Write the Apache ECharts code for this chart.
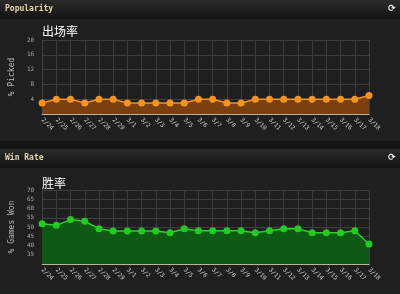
<!DOCTYPE html>
<html><head><meta charset="utf-8">
<script src="https://cdn.jsdelivr.net/npm/echarts@6/dist/echarts.min.js"></script>
<style>html,body{margin:0;padding:0;background:#1d1d1d;}#c{width:400px;height:294px;}</style>
</head><body><div id="c"></div>
<script>
const dates = ['2/24','2/25','2/26','2/27','2/28','2/29','3/1','3/2','3/3','3/4','3/5','3/6','3/7','3/8','3/9','3/10','3/11','3/12','3/13','3/14','3/15','3/16','3/17','3/18'];
const pickRate = [3,4,4,3,4,4,3,3,3,3,3,4,4,3,3,4,4,4,4,4,4,4,4,5];
const winRate = [51.8,50.9,54,53.1,49.1,47.8,47.8,47.8,47.8,46.9,49.1,48,48,48,48,46.9,48,49.1,49.1,46.9,46.9,46.9,48,40.8];
const pickTicks = {min:0, max:20, interval:4};
const winTicks = {min:30, max:70, interval:5};

const chart = echarts.init(document.getElementById('c'), null, {renderer:'canvas'});
const mono = 'DejaVu Sans Mono';
function headerBar(y, label){
  return [
    {type:'rect', shape:{x:0,y:y,width:400,height:19}, style:{fill:new echarts.graphic.LinearGradient(0,0,0,1,[{offset:0,color:'#2b2b2b'},{offset:1,color:'#121212'}])}, silent:true},
    {type:'text', x:5, y:y+5, style:{text:label, fill:'#e6d9a6', font:'bold 8px "DejaVu Sans Mono"'}},
    {type:'text', x:388, y:y+4, style:{text:'⟳', fill:'#eeeeee', font:'bold 9px "DejaVu Sans"'}}
  ];
}
function xAxis(gi){
  return {type:'category', gridIndex:gi, data:dates, boundaryGap:false,
    axisLine:{lineStyle:{color:'#bbb4a0', width:1}}, axisTick:{show:false},
    splitLine:{show:true, lineStyle:{color:'#3e3e3e'}},
    axisLabel:{rotate:-45, fontSize:6, color:'#cccccc', margin:5, interval:0, fontFamily:mono}};
}
function yAxis(gi, t, name){
  return {type:'value', gridIndex:gi, min:t.min, max:t.max, interval:t.interval,
    name:name, nameLocation:'middle', nameRotate:90, nameGap:26,
    nameTextStyle:{color:'#bbbbbb', fontSize:8, fontFamily:mono},
    axisLine:{show:true, lineStyle:{color:'#444'}}, axisTick:{show:false},
    splitLine:{show:true, lineStyle:{color:'#3e3e3e'}},
    axisLabel:{showMinLabel:false, fontSize:6, color:'#aaaaaa', margin:8, fontFamily:mono}};
}
chart.setOption({
  backgroundColor:'#1f1f1f',
  animation:false,
  graphic:[
    {type:'rect', shape:{x:0,y:141,width:400,height:9}, style:{fill:'#141414'}, silent:true},
    ...headerBar(0,'Popularity'),
    ...headerBar(149,'Win Rate')
  ],
  title:[
    {text:'出场率', left:37, top:20, textStyle:{color:'#ffffff', fontSize:12, fontWeight:'normal', fontFamily:'Noto Sans CJK SC'}},
    {text:'胜率', left:37, top:172, textStyle:{color:'#ffffff', fontSize:12, fontWeight:'normal', fontFamily:'Noto Sans CJK SC'}}
  ],
  grid:[
    {left:39, right:31, top:40, height:74},
    {left:39, right:31, top:190, height:74}
  ],
  xAxis:[xAxis(0), xAxis(1)],
  yAxis:[yAxis(0, pickTicks, '% Picked'), yAxis(1, winTicks, '% Games Won')],
  series:[
    {type:'line', xAxisIndex:0, yAxisIndex:0, data:pickRate, symbol:'circle', symbolSize:7,
      lineStyle:{color:'#f0922a', width:1.5}, itemStyle:{color:'#f7941d'},
      areaStyle:{color:'#7a400f', opacity:1}},
    {type:'line', xAxisIndex:1, yAxisIndex:1, data:winRate, symbol:'circle', symbolSize:7,
      lineStyle:{color:'#2fcf2f', width:1.5}, itemStyle:{color:'#22cc22'},
      areaStyle:{color:'#0f5a12', opacity:1}}
  ]
});
</script></body></html>
